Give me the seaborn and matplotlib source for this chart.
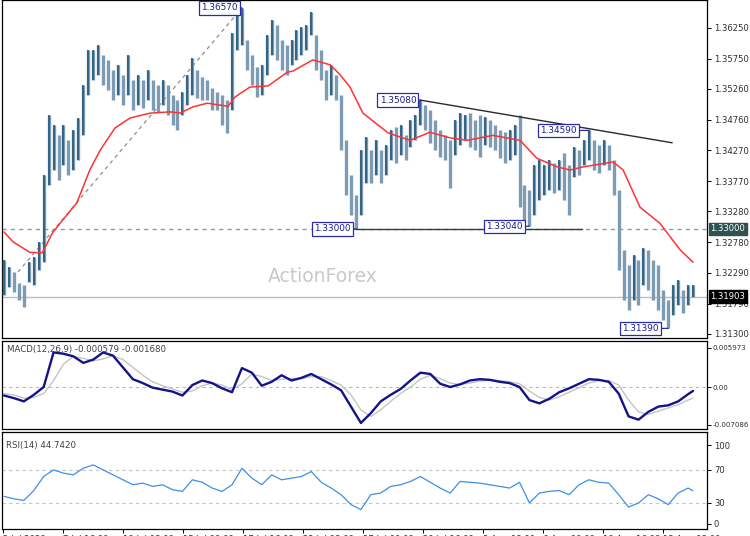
import numpy as np
import pandas as pd
import seaborn as sns
import matplotlib
matplotlib.use("Agg")
import matplotlib.pyplot as plt

# 1. ------ DATA ---------------------------

# price bars: high / low of each bar
bar_high = [1.3249, 1.3238, 1.3230, 1.3212, 1.3209, 1.3246, 1.3254, 1.3279, 1.3387, 1.3484,
            1.3468, 1.3451, 1.3468, 1.3443, 1.3460, 1.3479, 1.3532, 1.3589, 1.3589, 1.3597,
            1.3581, 1.3573, 1.3557, 1.3565, 1.3549, 1.3581, 1.3540, 1.3549, 1.3540, 1.3557,
            1.3540, 1.3532, 1.3540, 1.3532, 1.3516, 1.3508, 1.3521, 1.3549, 1.3576, 1.3557,
            1.3545, 1.3540, 1.3528, 1.3521, 1.3516, 1.3508, 1.3616, 1.3646, 1.3657, 1.3605,
            1.3581, 1.3561, 1.3565, 1.3613, 1.3638, 1.3629, 1.3605, 1.3597, 1.3605, 1.3621,
            1.3626, 1.3629, 1.3650, 1.3613, 1.3589, 1.3557, 1.3565, 1.3549, 1.3516, 1.3443,
            1.3387, 1.3355, 1.3427, 1.3448, 1.3427, 1.3443, 1.3427, 1.3435, 1.3460, 1.3464,
            1.3468, 1.3451, 1.3476, 1.3484, 1.3508, 1.3500, 1.3492, 1.3476, 1.3460, 1.3451,
            1.3443, 1.3476, 1.3487, 1.3484, 1.3487, 1.3476, 1.3484, 1.3481, 1.3476, 1.3468,
            1.3460, 1.3456, 1.3460, 1.3468, 1.3484, 1.3371, 1.3363, 1.3403, 1.3411, 1.3403,
            1.3411, 1.3406, 1.3411, 1.3422, 1.3403, 1.3432, 1.3427, 1.3443, 1.3459, 1.3443,
            1.3435, 1.3443, 1.3435, 1.3411, 1.3363, 1.3266, 1.3241, 1.3257, 1.3249, 1.3269,
            1.3266, 1.3249, 1.3241, 1.3201, 1.3185, 1.3209, 1.3217, 1.3201, 1.3209, 1.3209]
bar_low = [1.3193, 1.3206, 1.3198, 1.3185, 1.3173, 1.3214, 1.3209, 1.3233, 1.3246, 1.3371,
           1.3395, 1.3379, 1.3403, 1.3387, 1.3395, 1.3411, 1.3451, 1.3516, 1.3540, 1.3549,
           1.3532, 1.3524, 1.3508, 1.3516, 1.3500, 1.3516, 1.3492, 1.3500, 1.3495, 1.3508,
           1.3492, 1.3489, 1.3500, 1.3484, 1.3468, 1.3460, 1.3484, 1.3500, 1.3516, 1.3511,
           1.3508, 1.3508, 1.3492, 1.3492, 1.3468, 1.3455, 1.3492, 1.3589, 1.3597, 1.3557,
           1.3532, 1.3513, 1.3516, 1.3549, 1.3581, 1.3573, 1.3557, 1.3549, 1.3565, 1.3573,
           1.3581, 1.3589, 1.3613, 1.3557, 1.3540, 1.3508, 1.3516, 1.3508, 1.3427, 1.3355,
           1.3322, 1.3300, 1.3322, 1.3374, 1.3374, 1.3387, 1.3374, 1.3387, 1.3411, 1.3406,
           1.3419, 1.3411, 1.3432, 1.3443, 1.3468, 1.3460, 1.3439, 1.3427, 1.3416, 1.3411,
           1.3366, 1.3419, 1.3435, 1.3443, 1.3432, 1.3427, 1.3416, 1.3435, 1.3432, 1.3427,
           1.3414, 1.3406, 1.3411, 1.3419, 1.3335, 1.3314, 1.3304, 1.3322, 1.3346, 1.3355,
           1.3363, 1.3358, 1.3363, 1.3346, 1.3322, 1.3384, 1.3387, 1.3403, 1.3411, 1.3395,
           1.3390, 1.3403, 1.3395, 1.3355, 1.3233, 1.3185, 1.3168, 1.3185, 1.3177, 1.3209,
           1.3201, 1.3185, 1.3168, 1.3152, 1.3139, 1.3160, 1.3177, 1.3164, 1.3177, 1.3190]

# red moving average (bar position, value)
ma_pos = [0, 1.8, 5.2, 7.7, 9.9, 14.7, 17.3, 19.4, 22.4, 25.4, 29.5, 33.5, 35.5, 38.1, 41,
          45.2, 46.6, 49.6, 53.3, 57.1, 58.3, 62.3, 65.8, 67.8, 69.8, 72.4, 77.5, 81.9, 85.9,
          90, 93.4, 98.6, 104.1, 107.5, 111.6, 114.2, 116.8, 122.9, 124.9, 128.3, 132.3,
          134.4, 136.4, 139]
ma_val = [1.3295, 1.3279, 1.3262, 1.3261, 1.3295, 1.3342, 1.3395, 1.3427, 1.3463, 1.3479,
          1.3487, 1.3489, 1.3487, 1.3497, 1.3503, 1.3498, 1.3513, 1.3529, 1.3531, 1.3553,
          1.3555, 1.3573, 1.3565, 1.3549, 1.3529, 1.3487, 1.3455, 1.3443, 1.3456, 1.3447,
          1.3443, 1.3451, 1.3443, 1.3414, 1.3400, 1.3395, 1.3400, 1.3408, 1.3395, 1.3335,
          1.3309, 1.3287, 1.3266, 1.3246]

# indicators, one value every second bar (+ last bar)
ind_pos = list(range(0, 139, 2)) + [139]
macd_main = [-0.0013, -0.0017, -0.0022, -0.0012, 0.0000, 0.0053, 0.0051, 0.0047, 0.0037, 0.0042,
             0.0053, 0.0048, 0.0030, 0.0012, 0.0006, -0.0001, -0.0004, -0.0007, -0.0013, 0.0003,
             0.0010, 0.0006, -0.0002, -0.0008, 0.0029, 0.0022, 0.0002, 0.0008, 0.0018, 0.0010,
             0.0014, 0.0020, 0.0012, 0.0004, -0.0005, -0.0030, -0.0055, -0.0040, -0.0022, -0.0012,
             -0.0003, 0.0010, 0.0022, 0.0020, 0.0005, 0.0000, 0.0004, 0.0010, 0.0012, 0.0011,
             0.0008, 0.0006, 0.0000, -0.0020, -0.0025, -0.0018, -0.0008, -0.0002, 0.0005, 0.0012,
             0.0011, 0.0008, -0.0010, -0.0045, -0.0050, -0.0038, -0.0030, -0.0028, -0.0022, -0.0011,
             -0.0006]
macd_signal = [-0.0010, -0.0012, -0.0017, -0.0016, -0.0010, 0.0010, 0.0035, 0.0047, 0.0044, 0.0040,
               0.0043, 0.0048, 0.0042, 0.0030, 0.0018, 0.0008, 0.0002, -0.0003, -0.0008, -0.0006,
               0.0002, 0.0006, 0.0003, -0.0004, 0.0005, 0.0020, 0.0016, 0.0010, 0.0012, 0.0013,
               0.0013, 0.0016, 0.0016, 0.0010, 0.0003, -0.0012, -0.0035, -0.0045, -0.0035, -0.0022,
               -0.0010, 0.0000, 0.0012, 0.0018, 0.0013, 0.0006, 0.0004, 0.0006, 0.0009, 0.0011,
               0.0010, 0.0008, 0.0005, -0.0006, -0.0016, -0.0020, -0.0015, -0.0008, -0.0001, 0.0006,
               0.0010, 0.0010, 0.0003, -0.0020, -0.0038, -0.0042, -0.0037, -0.0032, -0.0027, -0.0020,
               -0.0017]
rsi_vals = [38, 35, 33, 45, 62, 70, 66, 64, 72, 76,
            70, 64, 58, 52, 54, 50, 52, 46, 44, 58,
            55, 48, 44, 52, 72, 60, 52, 64, 58, 60,
            62, 68, 55, 48, 40, 28, 22, 40, 42, 50,
            52, 56, 62, 55, 48, 42, 56, 55, 54, 52,
            50, 48, 55, 30, 42, 44, 45, 40, 52, 58,
            55, 54, 40, 25, 30, 40, 35, 28, 42, 48,
            44.7]

# drawn objects: trend lines and marked levels
trend_up_pos = [2.8, 48]
trend_up_val = [1.3230, 1.3657]
trend_dn_pos = [84, 134.8]
trend_dn_val = [1.3508, 1.3439]
support_pos = [71, 116.6]
support_val = [1.3300, 1.3300]
level_dashed = 1.33000
level_last = 1.31903

marks_pos = [48, 84, 118, 71, 106, 134]
marks_val = [1.3657, 1.3508, 1.3459, 1.3300, 1.3304, 1.3139]
marks_txt = ["1.36570", "1.35080", "1.34590", "1.33000", "1.33040", "1.31390"]
marks_gap = [3, 3, 9, 4, 5, 7]

price_ticks = [1.36250, 1.35750, 1.35260, 1.34760, 1.34270, 1.33770,
               1.33280, 1.32780, 1.32290, 1.31790, 1.31300]
time_labels = ["2 Jul 2020", "7 Jul 16:00", "10 Jul 08:00", "15 Jul 00:00",
               "17 Jul 16:00", "22 Jul 08:00", "27 Jul 00:00", "29 Jul 16:00",
               "3 Aug 08:00", "6 Aug 00:00", "10 Aug 16:00", "13 Aug 08:00"]

# 2. ------ LAYOUT ------
sns.set_theme(style="white")
plt.rcParams['font.family'] = ['DejaVu Sans']

W, H = 750, 536
PX = 4.957  # pixels per bar
FS = 6.1


def px_box(x0, y0, x1, y1):
    return [x0 / W, 1 - y1 / H, (x1 - x0) / W, (y1 - y0) / H]


fig = plt.figure(figsize=(7.5, 5.36), dpi=100)
fig.patch.set_facecolor("white")
ax = fig.add_axes(px_box(2, 0, 707, 338))
ax_macd = fig.add_axes(px_box(2, 341, 707, 429), sharex=ax)
ax_rsi = fig.add_axes(px_box(2, 432, 707, 529), sharex=ax)

AXCOL = "#303030"
for a in (ax, ax_macd, ax_rsi):
    a.set_facecolor("white")
    for s in a.spines.values():
        s.set_color("black")
        s.set_linewidth(0.9)
    a.yaxis.tick_right()
    a.tick_params(axis="y", which="both", right=True, left=False, length=3, width=0.7,
                  color="black", labelsize=FS, labelcolor=AXCOL, pad=2)
    a.tick_params(axis="x", bottom=False, labelbottom=False)

# 3. ------ PRICE PANEL ------
df = pd.DataFrame({"bar": np.arange(len(bar_high)), "high": bar_high, "low": bar_low})
df["mid"] = (df["high"] + df["low"]) / 2
df["up"] = df["mid"].diff().fillna(0) >= 0
dn = df[~df["up"]]
up = df[df["up"]]
ax.vlines(dn["bar"], dn["low"], dn["high"], colors="#7d9bb2", linewidth=2.4, zorder=3)
ax.vlines(up["bar"], up["low"], up["high"], colors="#7d9bb2", linewidth=2.4, zorder=3)
ax.vlines(up["bar"], up["low"], up["high"], colors="#1f5576", linewidth=1.1, zorder=3)

sns.lineplot(x=ma_pos, y=ma_val, ax=ax, color="#ff3333", linewidth=1.1, zorder=4)

ax.axhline(level_dashed, color="#8a9c9c", linewidth=1.0, linestyle=(0, (3, 3)), zorder=2)
ax.axhline(level_last, color="#bdbdbd", linewidth=1.0, zorder=2)
ax.plot(trend_up_pos, trend_up_val, color="#8c8c8c", linewidth=0.9,
        linestyle=(0, (3, 3)), zorder=2)
ax.plot(trend_dn_pos, trend_dn_val, color="#2a2a2a", linewidth=1.0, zorder=5)
ax.plot(support_pos, support_val, color="#3a3a3a", linewidth=1.0, zorder=5)

for p, v, t, g in zip(marks_pos, marks_val, marks_txt, marks_gap):
    ax.annotate(t, xy=(p, v), xytext=(-g, 0), textcoords="offset points",
                ha="right", va="center", fontsize=6.4, color="#1a1a8c",
                bbox=dict(boxstyle="square,pad=0.25", fc="white", ec="#2b2ba8", lw=0.9),
                arrowprops=dict(arrowstyle="-", color="#2b2ba8", lw=0.9,
                                shrinkA=0, shrinkB=0), zorder=6)

ax.set_ylim(1.31235, 1.36698)
ax.set_yticks(price_ticks)
ax.set_yticklabels([f"{t:.5f}" for t in price_ticks])
ax.set_xlabel("")
ax.set_ylabel("")

ytr = ax.get_yaxis_transform()
ax.text(1.005, level_dashed, "1.33000", transform=ytr, ha="left", va="center",
        fontsize=FS, color="white",
        bbox=dict(boxstyle="square,pad=0.2", fc="#2f5151", ec="#2f5151"))
ax.text(1.005, level_last, "1.31903", transform=ytr, ha="left", va="center",
        fontsize=FS, color="white",
        bbox=dict(boxstyle="square,pad=0.2", fc="black", ec="black"))

fig.text(323 / W, 1 - 277 / H, "ActionForex", fontsize=13.5, color="#c9c9c9",
         ha="center", va="center")

# 4. ------ MACD PANEL ------
ax_macd.axhline(0, color="#b8b8b8", linewidth=0.8, linestyle=(0, (3, 3)))
sns.lineplot(x=ind_pos, y=macd_signal, ax=ax_macd, color="#c4c4c4", linewidth=1.0)
sns.lineplot(x=ind_pos, y=macd_main, ax=ax_macd, color="#13138a", linewidth=1.7)
ax_macd.set_ylim(-0.00643, 0.00705)
ax_macd.set_yticks([0.0060, 0.0, -0.0058])
ax_macd.set_yticklabels(["0.005973", "0.00", "-0.007086"])
ax_macd.tick_params(axis="y", labelsize=5.1, pad=1.0)
ax_macd.text(0.007, 0.9, "MACD(12,26,9) -0.000579 -0.001680", transform=ax_macd.transAxes,
             fontsize=6.2, color="#404040", va="center", ha="left")
ax_macd.set_xlabel("")
ax_macd.set_ylabel("")

# 5. ------ RSI PANEL ------
for lvl in (70, 30):
    ax_rsi.axhline(lvl, color="#c4c4c4", linewidth=0.8, linestyle=(0, (3, 3)))
sns.lineplot(x=ind_pos, y=rsi_vals, ax=ax_rsi, color="#3d8fe8", linewidth=0.9)
ax_rsi.set_ylim(-1.5, 115.8)
ax_rsi.set_yticks([100, 70, 30, 5])
ax_rsi.set_yticklabels(["100", "70", "30", "0"])
ax_rsi.text(0.006, 0.86, "RSI(14) 44.7420", transform=ax_rsi.transAxes,
            fontsize=6.2, color="#404040", va="center", ha="left")
ax_rsi.set_xlabel("")
ax_rsi.set_ylabel("")

tick_pos = [(px - 4) / PX for px in range(3, 700, 60)]
ax_rsi.set_xticks(tick_pos)
ax_rsi.set_xticklabels(time_labels, ha="left")
ax_rsi.tick_params(axis="x", bottom=True, labelbottom=True, length=3, width=0.7,
                   color="black", labelsize=FS, labelcolor=AXCOL, pad=1.5)
ax.set_xlim(-2 / PX, (707 - 4) / PX)

fig.savefig("out.png", dpi=100)
